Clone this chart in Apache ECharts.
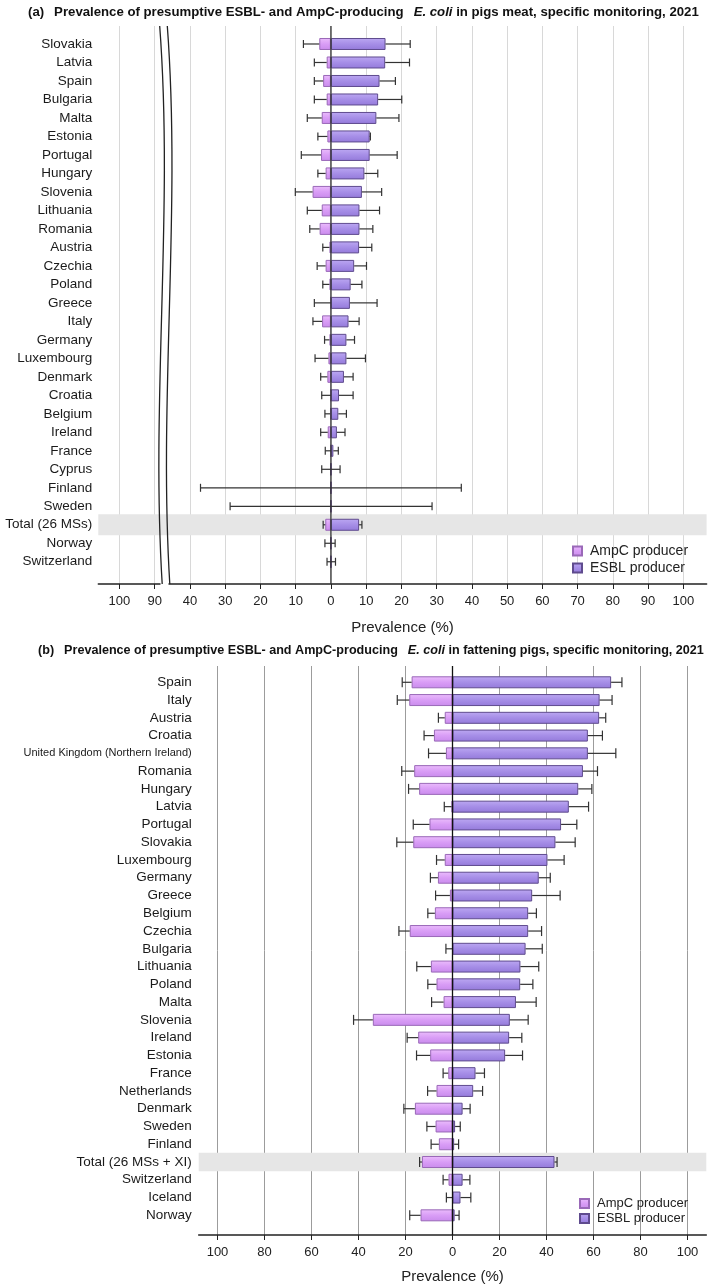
<!DOCTYPE html>
<html>
<head>
<meta charset="utf-8">
<script src="https://cdn.jsdelivr.net/npm/echarts@6/dist/echarts.min.js"></script>
<style>
  html, body { margin: 0; padding: 0; background: #fff; }
  #chart { width: 709px; height: 1288px; }
</style>
</head>
<body>
<div id="chart"></div>
<script>
// (a) pigs meat -- prevalence (%) and upper CI of each estimate
const countriesA = ["Slovakia", "Latvia", "Spain", "Bulgaria", "Malta", "Estonia", "Portugal", "Hungary", "Slovenia", "Lithuania", "Romania", "Austria", "Czechia", "Poland", "Greece", "Italy", "Germany", "Luxembourg", "Denmark", "Croatia", "Belgium", "Ireland", "France", "Cyprus", "Finland", "Sweden", "Total (26 MSs)", "Norway", "Switzerland"];
const ampcA = [3.3, 1.2, 2.2, 1.2, 2.6, 1.0, 2.8, 1.5, 5.2, 2.6, 3.2, 0.4, 1.5, 0.4, 0, 2.5, 0.4, 0.7, 1.0, 0, 0.2, 0.9, 0, 0, 0, 0, 1.6, 0, 0];
const ampcHiA = [7.8, 4.7, 4.7, 4.7, 6.7, 3.7, 8.4, 3.7, 10.1, 6.7, 6.0, 2.3, 3.9, 2.3, 4.7, 5.1, 1.8, 4.5, 2.9, 2.6, 1.7, 2.9, 1.6, 2.6, 37.0, 28.6, 2.2, 1.7, 1.1];
const esblA = [15.5, 15.4, 13.8, 13.4, 12.9, 11.0, 11.0, 9.5, 8.8, 8.1, 8.1, 8.0, 6.6, 5.6, 5.4, 5.0, 4.4, 4.4, 3.7, 2.3, 2.1, 1.7, 0.7, 0, 0, 0, 8.0, 0, 0];
const esblHiA = [22.5, 22.3, 18.3, 20.1, 19.3, 11.2, 18.8, 13.3, 14.4, 13.8, 11.9, 11.6, 10.1, 8.8, 13.1, 8.0, 6.7, 9.8, 6.3, 6.3, 4.4, 4.0, 2.1, 2.6, 37.0, 28.7, 8.8, 1.2, 1.3];
// axis (a) is broken between 90 and 40 on the left side
const ticksA = [-60, -50, -40, -30, -20, -10, 0, 10, 20, 30, 40, 50, 60, 70, 80, 90, 100];

// (b) fattening pigs
const countriesB = ["Spain", "Italy", "Austria", "Croatia", "United Kingdom (Northern Ireland)", "Romania", "Hungary", "Latvia", "Portugal", "Slovakia", "Luxembourg", "Germany", "Greece", "Belgium", "Czechia", "Bulgaria", "Lithuania", "Poland", "Malta", "Slovenia", "Ireland", "Estonia", "France", "Netherlands", "Denmark", "Sweden", "Finland", "Total (26 MSs + XI)", "Switzerland", "Iceland", "Norway"];
const ampcB = [17.4, 18.4, 3.3, 7.9, 2.8, 16.3, 14.2, 0.4, 9.8, 16.7, 3.3, 6.2, 1.1, 7.5, 18.2, 0, 9.2, 6.8, 3.8, 33.9, 14.6, 9.5, 1.8, 6.8, 16.0, 7.2, 5.8, 13.0, 1.7, 0, 13.6];
const ampcHiB = [21.4, 23.5, 6.0, 12.1, 10.2, 21.6, 18.7, 3.5, 16.7, 23.7, 6.8, 9.4, 7.2, 10.5, 22.8, 2.8, 15.2, 10.5, 8.9, 42.1, 19.3, 15.3, 4.0, 10.6, 20.7, 10.9, 9.1, 14.0, 4.0, 2.6, 18.2];
const esblB = [67.5, 62.6, 62.4, 57.6, 57.6, 55.5, 53.5, 49.5, 46.2, 43.8, 40.4, 36.7, 33.9, 32.2, 32.2, 31.1, 28.9, 28.8, 27.0, 24.4, 24.1, 22.4, 9.8, 8.8, 4.3, 1.1, 0.7, 43.4, 4.3, 3.4, 0.9];
const esblHiB = [72.1, 67.9, 65.2, 63.8, 69.5, 61.7, 59.3, 57.9, 52.9, 52.2, 47.5, 41.6, 45.8, 35.7, 37.9, 38.2, 36.7, 34.2, 35.6, 32.2, 29.5, 29.8, 13.6, 12.8, 7.5, 3.3, 2.6, 44.5, 7.4, 7.8, 2.8];
const ticksB = [-100, -80, -60, -40, -20, 0, 20, 40, 60, 80, 100];

const FONT = "'Liberation Sans', Arial, sans-serif";
const ampcColor = new echarts.graphic.LinearGradient(0, 0, 0, 1, [
  { offset: 0, color: "#ebbdfc" }, { offset: 0.5, color: "#d99df6" }, { offset: 1, color: "#c98bec" }
]);
const esblColor = new echarts.graphic.LinearGradient(0, 0, 0, 1, [
  { offset: 0, color: "#bca8f2" }, { offset: 0.5, color: "#a68ee7" }, { offset: 1, color: "#947ada" }
]);

const labelA = (v) => (v < -40 ? String(40 - v) : String(Math.abs(v)));
const labelB = (v) => String(Math.abs(v));

function errorBars(capH) {
  return function (params, api) {
    const idx = api.value(0);
    const segs = [[api.value(1), api.value(2)], [api.value(3), api.value(4)]];
    const children = [];
    const st = { stroke: "#333", lineWidth: 1.2 };
    segs.forEach(([from, to]) => {
      if (from === to) return;
      const p0 = api.coord([from, idx]);
      const p1 = api.coord([to, idx]);
      children.push({ type: "line", shape: { x1: p0[0], y1: p0[1], x2: p1[0], y2: p1[1] }, style: st });
      children.push({ type: "line", shape: { x1: p1[0], y1: p1[1] - capH / 2, x2: p1[0], y2: p1[1] + capH / 2 }, style: st });
    });
    return { type: "group", children };
  };
}

function band(h) {
  return function (params, api) {
    const cs = params.coordSys;
    const y = api.coord([0, api.value(1)])[1];
    return { type: "rect", shape: { x: cs.x, y: y - h / 2, width: cs.width, height: h }, style: { fill: "#e6e6e6" } };
  };
}

function zeroLine(color) {
  return function (params, api) {
    const cs = params.coordSys;
    const x = api.coord([0, 0])[0];
    return { type: "line", shape: { x1: x, y1: cs.y, x2: x, y2: cs.y + cs.height }, style: { stroke: color, lineWidth: 1.3 } };
  };
}

// double wavy break marks on axis (a)
function breakMarks(params, api) {
  const cs = params.coordSys;
  const x0 = api.coord([api.value(0), 0])[0];
  const top = cs.y, bot = cs.y + cs.height, h = cs.height;
  const curve = (dx) => ({
    type: "bezierCurve",
    shape: { x1: x0 + dx, y1: top, cpx1: x0 + dx + 14, cpy1: top + h / 3, cpx2: x0 + dx - 9, cpy2: top + (2 * h) / 3, x2: x0 + dx + 2.5, y2: bot },
    style: { stroke: "#222", lineWidth: 1.3, fill: null }
  });
  return {
    type: "group",
    children: [
      { type: "rect", shape: { x: x0 - 3, y: bot - 2, width: 8, height: 4 }, style: { fill: "#fff" } },
      curve(-3.8),
      curve(3.8)
    ]
  };
}

function decorXAxis(grid, min, max, ticks, fmt, splitColor, nameGap) {
  return {
    type: "value", gridIndex: grid, min, max,
    name: "Prevalence (%)", nameLocation: "middle", nameGap,
    nameTextStyle: { fontFamily: FONT, fontSize: 15, color: "#222" },
    axisLine: { show: true, onZero: false, lineStyle: { color: "#222", width: 1.5 } },
    axisTick: { show: true, length: 5, customValues: ticks, lineStyle: { color: "#222", width: 1 } },
    axisLabel: { customValues: ticks, formatter: fmt, margin: 11, fontFamily: FONT, fontSize: 13, color: "#222", showMinLabel: true, showMaxLabel: true },
    splitLine: { show: true, lineStyle: { color: splitColor, width: 1 } }
  };
}

function dataAxes(grid, min, max, cats, margin) {
  return {
    x: { type: "value", gridIndex: grid, min, max, show: false, splitLine: { show: false } },
    y: {
      type: "category", gridIndex: grid, data: cats, inverse: true,
      axisLine: { show: false }, axisTick: { show: false }, splitLine: { show: false },
      axisLabel: {
        interval: 0, margin, fontFamily: FONT, fontSize: 13.5, color: "#1a1a1a",
        // the very long name is set tighter in the original
        formatter: (v) => (v.length > 25 ? "{s|" + v + "}" : v),
        rich: { s: { fontFamily: FONT, fontSize: 11, color: "#1a1a1a" } }
      }
    }
  };
}

const axA = dataAxes(1, -66, 106.6, countriesA, 6);
const axB = dataAxes(3, -108, 108, countriesB, 7);

function titleText(letter, rest) {
  return "{n|" + letter + "}  {b|Prevalence of presumptive ESBL- and AmpC-producing}  {bi|E. coli}{b| " + rest + "}";
}
function titleRich(size) {
  return {
    n: { fontFamily: FONT, fontSize: size, color: "#111" },
    b: { fontFamily: FONT, fontSize: size, fontWeight: "bold", color: "#111" },
    bi: { fontFamily: FONT, fontSize: size, fontWeight: "bold", fontStyle: "italic", color: "#111" }
  };
}

const legendBase = {
  orient: "vertical", icon: "rect", itemWidth: 9, itemHeight: 9,
  data: ["AmpC producer", "ESBL producer"]
};

const option = {
  backgroundColor: "#fff",
  animation: false,
  title: [
    { text: titleText("(a)", "in pigs meat, specific monitoring, 2021"), left: 23, top: -2, textStyle: { rich: titleRich(13.2) } },
    { text: titleText("(b)", "in fattening pigs, specific monitoring, 2021"), left: 33, top: 637, textStyle: { rich: titleRich(12.6) } }
  ],
  legend: [
    Object.assign({}, legendBase, { left: 567, top: 539, itemGap: 3,
      textStyle: { fontFamily: FONT, fontSize: 14, color: "#222", padding: [0, 0, 0, 3] } }),
    Object.assign({}, legendBase, { left: 574, top: 1192, itemGap: 2,
      textStyle: { fontFamily: FONT, fontSize: 13, color: "#222", padding: [0, 0, 0, 3] } })
  ],
  grid: [
    { left: 98.3, right: 2.4, top: 26, bottom: 704, outerBoundsMode: "none" },
    { left: 98.3, right: 2.4, top: 34.75, bottom: 717, outerBoundsMode: "none" },
    { left: 198.7, right: 2.7, top: 666, bottom: 53, outerBoundsMode: "none" },
    { left: 198.7, right: 2.7, top: 673.4, bottom: 63.8, outerBoundsMode: "none" }
  ],
  xAxis: [
    decorXAxis(0, -66, 106.6, ticksA, labelA, "#d8d8d8", 36),
    axA.x,
    decorXAxis(2, -108, 108, ticksB, labelB, "#9c9c9c", 34),
    axB.x
  ],
  yAxis: [
    { type: "value", gridIndex: 0, min: 0, max: 1, show: false },
    axA.y,
    { type: "value", gridIndex: 2, min: 0, max: 1, show: false },
    axB.y
  ],
  series: [
    // panel (a)
    { type: "custom", xAxisIndex: 1, yAxisIndex: 1, z: 1, silent: true, renderItem: band(21),
      encode: { x: 0, y: 1 }, data: [[0, countriesA.indexOf("Total (26 MSs)")]] },
    { name: "AmpC producer", type: "bar", xAxisIndex: 1, yAxisIndex: 1, z: 2, barWidth: 12, barGap: "-100%",
      itemStyle: { color: ampcColor, borderColor: "#9a69b8", borderWidth: 1 }, data: ampcA.map((v) => -v) },
    { name: "ESBL producer", type: "bar", xAxisIndex: 1, yAxisIndex: 1, z: 2, barWidth: 12, barGap: "-100%",
      itemStyle: { color: esblColor, borderColor: "#5f4b8e", borderWidth: 1 }, data: esblA },
    { type: "custom", xAxisIndex: 1, yAxisIndex: 1, z: 3, silent: true, renderItem: errorBars(8),
      encode: { x: [1, 2, 3, 4], y: 0 },
      data: countriesA.map((c, i) => [i, -ampcA[i], -ampcHiA[i], esblA[i], esblHiA[i]]) },
    { type: "custom", xAxisIndex: 0, yAxisIndex: 0, z: 4, silent: true, renderItem: zeroLine("#333"),
      encode: { x: 0, y: 1 }, data: [[0, 0]] },
    { type: "custom", xAxisIndex: 0, yAxisIndex: 0, z: 5, silent: true, renderItem: breakMarks,
      encode: { x: 0, y: 1 }, data: [[-47.5, 0]] },
    // panel (b)
    { type: "custom", xAxisIndex: 3, yAxisIndex: 3, z: 1, silent: true, renderItem: band(18.5),
      encode: { x: 0, y: 1 }, data: [[0, countriesB.indexOf("Total (26 MSs + XI)")]] },
    { name: "AmpC producer", type: "bar", xAxisIndex: 3, yAxisIndex: 3, z: 2, barWidth: 12, barGap: "-100%",
      itemStyle: { color: ampcColor, borderColor: "#9a69b8", borderWidth: 1 }, data: ampcB.map((v) => -v) },
    { name: "ESBL producer", type: "bar", xAxisIndex: 3, yAxisIndex: 3, z: 2, barWidth: 12, barGap: "-100%",
      itemStyle: { color: esblColor, borderColor: "#5f4b8e", borderWidth: 1 }, data: esblB },
    { type: "custom", xAxisIndex: 3, yAxisIndex: 3, z: 3, silent: true, renderItem: errorBars(10),
      encode: { x: [1, 2, 3, 4], y: 0 },
      data: countriesB.map((c, i) => [i, -ampcB[i], -ampcHiB[i], esblB[i], esblHiB[i]]) },
    { type: "custom", xAxisIndex: 2, yAxisIndex: 2, z: 4, silent: true, renderItem: zeroLine("#111"),
      encode: { x: 0, y: 1 }, data: [[0, 0]] }
  ]
};

const chart = echarts.init(document.getElementById("chart"), null, { renderer: "canvas" });
chart.setOption(option);
</script>
</body>
</html>
